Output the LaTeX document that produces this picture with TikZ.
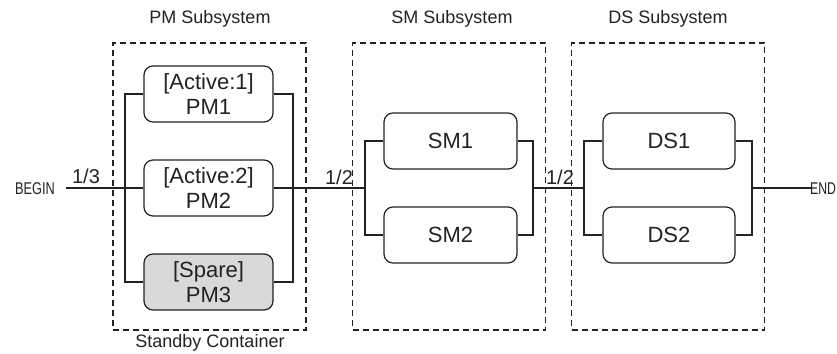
\documentclass[tikz,border=0pt]{standalone}
\usepackage{fontspec}
\setmainfont{Liberation Sans}
\definecolor{ink}{HTML}{222222}
\definecolor{spare}{HTML}{D9D9D9}
\begin{document}
\begin{tikzpicture}[x=1pt,y=-1pt,
  unit/.style={draw=ink, line width=1.2pt, rounded corners=9pt, fill=white,
    minimum width=129pt, minimum height=56pt, inner sep=0pt, align=center,
    text=ink, font=\fontsize{22}{25}\selectfont},
  sub/.style={draw=ink, line width=1.4pt, dash pattern=on 6pt off 4pt,
    minimum width=193pt, minimum height=287pt, inner sep=0pt},
  wire/.style={draw=ink, line width=1.3pt},
  title/.style={text=ink, font=\fontsize{18}{20}\selectfont, inner sep=0pt},
  frac/.style={text=ink, font=\fontsize{20}{22}\selectfont, inner sep=0pt, anchor=base},
  term/.style={text=ink, font=\fontsize{17}{19}\selectfont, inner sep=0pt}]
\useasboundingbox (0,0) rectangle (837,353);
\fill[white] (0,0) rectangle (837,353);

% subsystem containers
\node[sub] (pmbox) at (209.5,186.5) {};
\node[sub] (smbox) at (449,186.5) {};
\node[sub] (dsbox) at (668,186.5) {};
\node[title] (pmt) at (210,19) {PM Subsystem};
\node[title] (smt) at (452,19) {SM Subsystem};
\node[title] (dst) at (668,19) {DS Subsystem};
\node[title] (sbt) at (210,343) {Standby Container};

% units
\node[unit] (pm1) at (208.5,94) {[Active:1]\\PM1};
\node[unit] (pm2) at (208.5,188) {[Active:2]\\PM2};
\node[unit, fill=spare] (pm3) at (208.5,282) {[Spare]\\PM3};
\node[unit, minimum width=133pt] (sm1) at (450.5,141) {SM1};
\node[unit, minimum width=133pt] (sm2) at (450.5,235) {SM2};
\node[unit, minimum width=132pt] (ds1) at (669,141) {DS1};
\node[unit, minimum width=132pt] (ds2) at (669,235) {DS2};

% terminals
\node[term, anchor=east] (begin) at (55,189) {\scalebox{0.75}[1]{BEGIN}};
\node[term, anchor=west] (end) at (810,189) {\scalebox{0.72}[1]{END}};
\coordinate (bw) at (66,188);
\coordinate (ee) at (811,188);

% bus coordinates
\coordinate (pl1) at (125,94);  \coordinate (pl2) at (125,188); \coordinate (pl3) at (125,282);
\coordinate (pr1) at (293,94);  \coordinate (pr2) at (293,188); \coordinate (pr3) at (293,282);
\coordinate (sl1) at (365,141); \coordinate (sl2) at (365,188); \coordinate (sl3) at (365,235);
\coordinate (sr1) at (533,141); \coordinate (sr2) at (533,188); \coordinate (sr3) at (533,235);
\coordinate (dl1) at (584,141); \coordinate (dl2) at (584,188); \coordinate (dl3) at (584,235);
\coordinate (dr1) at (752,141); \coordinate (dr2) at (752,188); \coordinate (dr3) at (752,235);

% PM parallel block
\draw[wire] (pm1.west) -- (pl1) -- (pl3) -- (pm3.west);
\draw[wire] (pm2.west) -- (pl2);
\draw[wire] (pm1.east) -- (pr1) -- (pr3) -- (pm3.east);
\draw[wire] (pm2.east) -- (pr2);
% SM parallel block
\draw[wire] (sm1.west) -- (sl1) -- (sl3) -- (sm2.west);
\draw[wire] (sm1.east) -- (sr1) -- (sr3) -- (sm2.east);
% DS parallel block
\draw[wire] (ds1.west) -- (dl1) -- (dl3) -- (ds2.west);
\draw[wire] (ds1.east) -- (dr1) -- (dr3) -- (ds2.east);

% series connections
\draw[wire] (bw) -- (pl2);
\draw[wire] (pr2) -- (sl2);
\draw[wire] (sr2) -- (dl2);
\draw[wire] (dr2) -- (ee);

% fractions
\node[frac] (f1) at (86,183) {1/3};
\node[frac] (f2) at (339,184) {1/2};
\node[frac] (f3) at (560,184) {1/2};
\end{tikzpicture}
\end{document}
